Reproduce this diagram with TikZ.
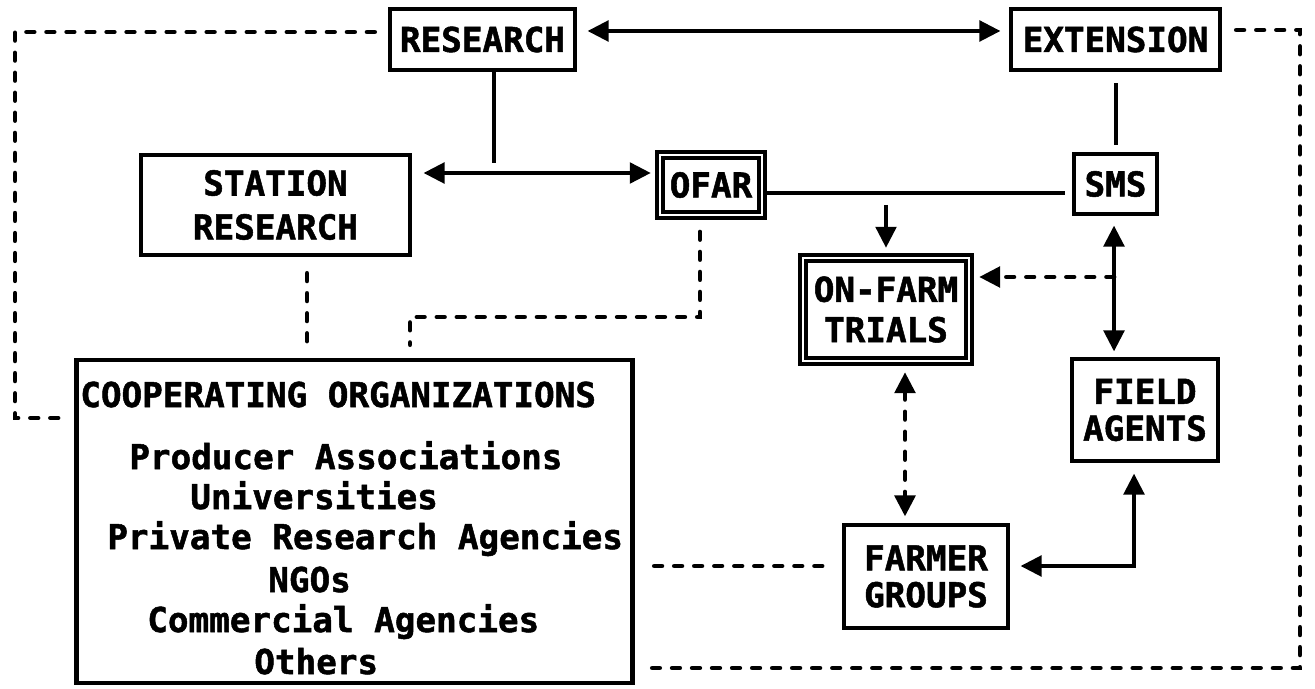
\documentclass[tikz,border=0pt]{standalone}
\usepackage{fontspec}
\newfontfamily\dmono{DejaVu Sans Mono}[BoldFeatures={FakeBold=1.5}]
\usetikzlibrary{arrows.meta,calc}
\begin{document}
\begin{tikzpicture}[x=0.02cm,y=-0.02cm,
  >={Triangle[length=12pt,width=11.5pt]},
  txt/.style={font=\dmono\bfseries\fontsize{19.5}{23}\selectfont},
  boxnode/.style={draw, line width=2.8pt, inner sep=0pt, align=center, txt},
  dboxnode/.style={boxnode, line width=2.4pt, double=white, double distance=1.2pt},
  conn/.style={line width=2.6pt},
  dashline/.style={line width=2.8pt, line cap=round, dash pattern=on 4.2pt off 7.2pt},
  cooptext/.style={txt, inner sep=0pt, anchor=base west}
]
\useasboundingbox (0,0) rectangle (1315,689);

% boxes
\node[boxnode, minimum width=3.7cm, minimum height=1.22cm] (research) at (482.5,39.5) {RESEARCH};
\node[boxnode, minimum width=4.18cm, minimum height=1.22cm] (extension) at (1115.5,39.5) {EXTENSION};
\node[boxnode, minimum width=5.38cm, minimum height=2.0cm] (station) at (275.5,205) {STATION\\[2pt]RESEARCH};
\node[dboxnode, minimum width=2.04cm, minimum height=1.2cm] (ofar) at (711,185) {OFAR};
\node[boxnode, minimum width=1.66cm, minimum height=1.2cm] (sms) at (1115.5,184) {SMS};
\node[dboxnode, minimum width=3.32cm, minimum height=2.06cm] (onfarm) at (886,309.5) {ON-FARM\\TRIALS};
\node[boxnode, minimum width=2.92cm, minimum height=2.04cm] (field) at (1145,410) {FIELD\\[-2pt]AGENTS};
\node[boxnode, minimum width=3.28cm, minimum height=2.06cm] (farmer) at (926,576.5) {FARMER\\[-2pt]GROUPS};
\node[draw, line width=2.8pt, inner sep=0pt, minimum width=11.14cm, minimum height=6.46cm] (coop) at (354.5,521.5) {};

% coop texts
\node[cooptext] (c1) at (80,407) {COOPERATING ORGANIZATIONS};
\node[cooptext] (c2) at (129,469) {Producer Associations};
\node[cooptext] (c3) at (190,509) {Universities};
\node[cooptext] (c4) at (107,549) {Private Research Agencies};
\node[cooptext] (c5) at (268,592) {NGOs};
\node[cooptext] (c6) at (147,632) {Commercial Agencies};
\node[cooptext] (c7) at (254,674) {Others};

% junction coordinates
\coordinate (fj) at (886,205);
\coordinate (dj) at (1114,277);
\coordinate (rj) at (494,163);

% solid connectors
\draw[conn,<->] ($(research.east|-0,31)+(10,0)$) -- ($(extension.west|-0,31)+(-8,0)$);
\draw[conn] (research.south -| rj) -- (rj);
\draw[conn,<->] ($(station.east|-0,173)+(11,0)$) -- ($(ofar.west|-0,173)+(-7,0)$);
\draw[conn] ($(ofar.east|-0,193)+(3,0)$) -- ($(sms.west|-0,193)+(-7,0)$);
\draw[conn,->] (fj) -- ($(onfarm.north)+(0,-8)$);
\draw[conn] ($(extension.south -| 1116,0)+(0,11)$) -- ($(sms.north -| 1116,0)+(0,-7)$);
\draw[conn,<->] ($(sms.south -| dj)+(0,9)$) -- ($(field.north -| dj)+(0,-5)$);
\draw[conn,<->] ($(field.south -| 1134,0)+(0,10)$) -- (1134,566) -- ($(farmer.east|-0,566)+(10,0)$);

% dashed connectors
\draw[dashline] ($(research.west|-0,32)+(-13,0)$) -- (15,32) -- (15,418) -- ($(coop.west|-0,418)+(-12,0)$);
\draw[dashline] ($(extension.east|-0,30)+(14,0)$) -- (1300,30) -- (1300,668) -- ($(coop.east|-0,668)+(17,0)$);
\draw[dashline,->] (dj) -- ($(onfarm.east|-0,277)+(8,0)$);
\draw[dashline] ($(ofar.south -| 700,0)+(0,15)$) -- (700,317) -- (410,317) -- ($(coop.north -| 410,0)+(0,-13)$);
\draw[dashline] ($(station.south -| 307,0)+(0,16)$) -- ($(coop.north -| 307,0)+(0,-13)$);
\draw[dashline,<->] ($(onfarm.south -| 905,0)+(0,9)$) -- ($(farmer.north -| 905,0)+(0,-6)$);
\draw[dashline] ($(coop.east|-0,566)+(19,0)$) -- ($(farmer.west|-0,566)+(-14,0)$);
\end{tikzpicture}
\end{document}
